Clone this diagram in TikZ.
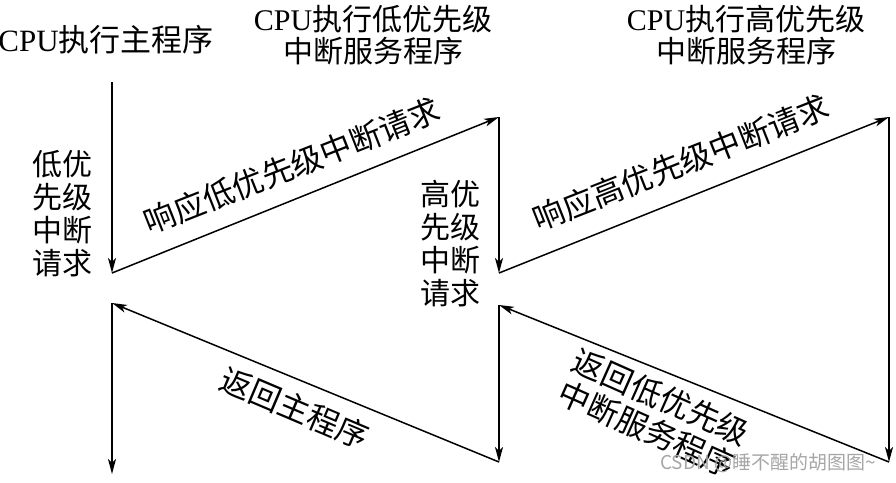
\documentclass[tikz,border=0pt]{standalone}
\usepackage{fontspec}
\setmainfont{Liberation Serif}
\newfontfamily\cjk{Noto Sans CJK SC}
\usetikzlibrary{arrows.meta}
\begin{document}
\begin{tikzpicture}[x=1pt,y=-1pt,
  flow/.style={line width=1.5pt,-{Stealth[length=15pt,width=8pt,inset=4pt]}},
  hdr/.style={font=\cjk\fontsize{30}{32}\selectfont, inner sep=0pt, align=center},
  side/.style={font=\cjk\fontsize{30}{33}\selectfont, inner sep=0pt, align=center},
  diag/.style={font=\cjk\fontsize{31.5}{35}\selectfont, inner sep=0pt, align=center},
  wm/.style={font=\cjk\fontsize{19}{22}\selectfont, inner sep=0pt, text=black!35}]
\useasboundingbox (0,0) rectangle (896,482);
% path points
\coordinate (A) at (112,82);
\coordinate (B) at (112,273);
\coordinate (C) at (499,117);
\coordinate (D) at (499,273);
\coordinate (E) at (889,117);
\coordinate (F) at (889,462);
\coordinate (G) at (499,305);
\coordinate (H) at (499,462);
\coordinate (I) at (112,303);
\coordinate (J) at (112,474);
% arrows
\draw[flow] (A) -- (B);
\draw[flow] (B) -- (C);
\draw[flow] (C) -- (D);
\draw[flow] (D) -- (E);
\draw[flow] (E) -- (F);
\draw[flow] (F) -- (G);
\draw[flow] (G) -- (H);
\draw[flow] (H) -- (I);
\draw[flow] (I) -- (J);
% headers
\node[hdr, font=\cjk\fontsize{31}{33}\selectfont] (h1) at (106,40) {{\rmfamily CPU}执行主程序};
\node[hdr] (h2) at (373,35) {{\rmfamily CPU}执行低优先级\\中断服务程序};
\node[hdr] (h3) at (746,35) {{\rmfamily CPU}执行高优先级\\中断服务程序};
% side labels
\node[side] (s1) at (62,214) {低优\\先级\\中断\\请求};
\node[side] (s2) at (450,244) {高优\\先级\\中断\\请求};
% diagonal labels
\node[diag, rotate=21.5] (d1) at (292,166) {响应低优先级中断请求};
\node[diag, rotate=21.5] (d2) at (681,163) {响应高优先级中断请求};
\node[diag, rotate=-23] (d3) at (295,408) {返回主程序};
\node[diag, rotate=-24] (d4) at (654,413) {返回低优先级\\中断服务程序};
% watermark
\node[wm] (w) at (768,463) {CSDN @睡不醒的胡图图\textasciitilde};
\end{tikzpicture}
\end{document}
